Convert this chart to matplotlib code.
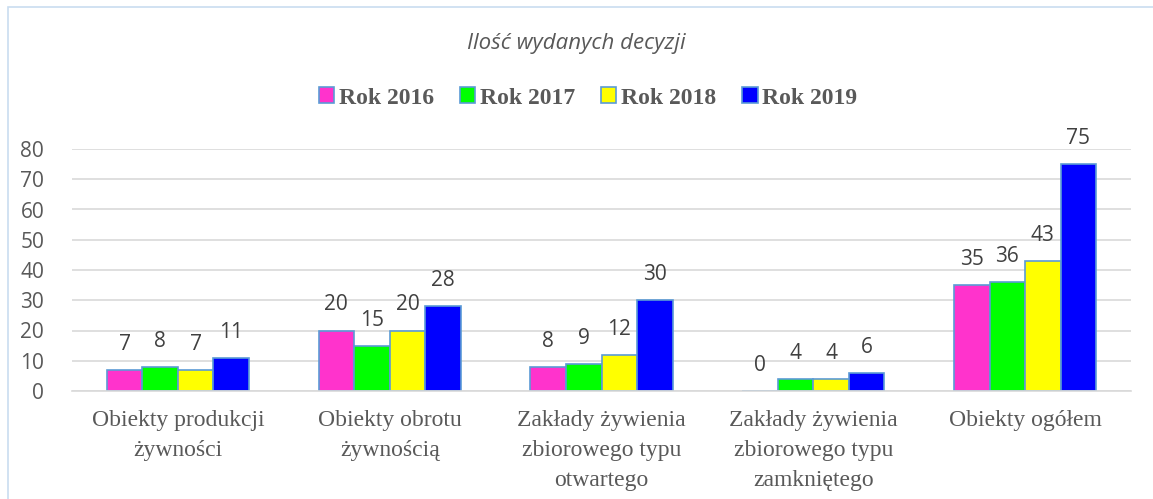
import numpy as np
import matplotlib.pyplot as plt
from matplotlib.patches import Rectangle

# dane
categories = ["Obiekty produkcji\nżywności", "Obiekty obrotu\nżywnością",
              "Zakłady żywienia\nzbiorowego typu\notwartego",
              "Zakłady żywienia\nzbiorowego typu\nzamkniętego", "Obiekty ogółem"]
years = ["Rok 2016", "Rok 2017", "Rok 2018", "Rok 2019"]
v2016 = [7, 20, 8, 0, 35]
v2017 = [8, 15, 9, 4, 36]
v2018 = [7, 20, 12, 4, 43]
v2019 = [11, 28, 30, 6, 75]
colors = ["#FF33CC", "#00FF00", "#FFFF00", "#0000FF"]

series = [v2016, v2017, v2018, v2019]
gray = "#595959"

fig = plt.figure(figsize=(11.53, 4.99), dpi=100)
# ramka obrazka
fig.patches.append(Rectangle((8 / 1153, -0.01), 1.0, 1 - 7 / 499 + 0.01,
                             transform=fig.transFigure, fill=False,
                             edgecolor="#C9DDF0", linewidth=1.2))

ax = fig.add_axes([72 / 1153, 1 - 391 / 499, (1131 - 72) / 1153, (391 - 149) / 499])
x = np.arange(len(categories))
w = 0.168
for i, (vals, c, lab) in enumerate(zip(series, colors, years)):
    pos = x + (i - 1.5) * w
    ax.bar(pos, vals, w, color=c, edgecolor="#5B9BD5", linewidth=1.2, label=lab)
    for p, v in zip(pos, vals):
        ax.text(p, v + 5.0, str(v), ha="center", va="bottom", fontsize=15,
                color="#404040", family="Open Sans")

ax.set_ylim(0, 80)
ax.set_xlim(-0.5, len(categories) - 0.5)
ax.set_yticks(range(0, 81, 10))
ax.yaxis.grid(True, color="#D9D9D9", linewidth=1.2)
ax.set_axisbelow(True)
for s in ["top", "right", "left"]:
    ax.spines[s].set_visible(False)
ax.spines["bottom"].set_color("#D9D9D9")
ax.spines["bottom"].set_linewidth(1.2)
ax.tick_params(axis="both", length=0)
ax.tick_params(axis="y", pad=20, labelsize=15, labelcolor=gray)
ax.set_yticklabels([str(t) for t in range(0, 81, 10)], family="Open Sans")
ax.set_xticks(x)
ax.set_xticklabels(categories, family="Liberation Serif", fontsize=17,
                   color=gray, linespacing=1.55)
ax.tick_params(axis="x", pad=14)

fig.text(0.5, 1 - 44 / 499, "Ilość wydanych decyzji", ha="center", va="center",
         fontsize=16, style="italic", color=gray, family="Open Sans")
leg = fig.legend(loc="center", bbox_to_anchor=(0.51, 1 - 98 / 499), ncol=4,
                 frameon=False, handlelength=0.65, handleheight=0.65,
                 handletextpad=0.2, columnspacing=1.1,
                 prop={"family": "Liberation Serif", "weight": "bold", "size": 17})
for t in leg.get_texts():
    t.set_color(gray)

fig.savefig("out.png", dpi=100)
